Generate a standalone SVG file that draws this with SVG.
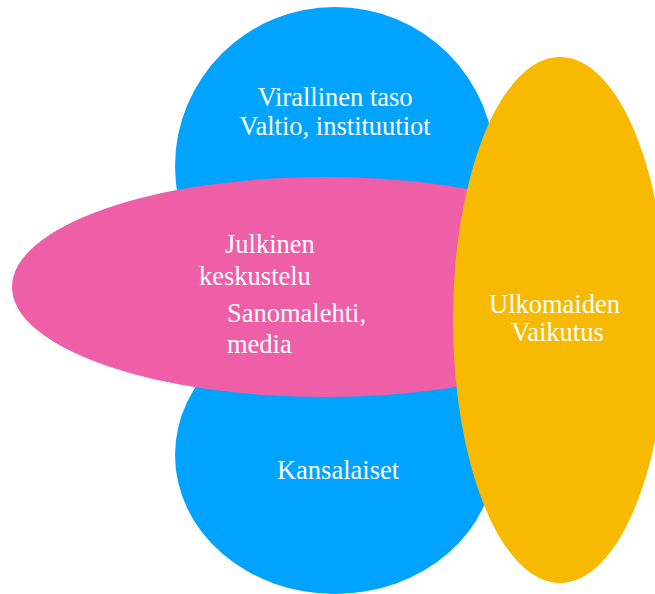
<svg xmlns="http://www.w3.org/2000/svg" width="655" height="594" viewBox="0 0 655 594">
<style>
.t{font-family:"Liberation Serif","Times New Roman",serif;font-size:26.5px;fill:#ffffff}
.blue{fill:#00A3FF}
.pink{fill:#EE5FA7}
.yellow{fill:#F7BA00}
</style>
<rect width="655" height="594" fill="#ffffff"/>
<g id="virallinen">
<ellipse class="blue" cx="335" cy="166" rx="160" ry="159"/>
<text class="t" x="335" y="106" text-anchor="middle">Virallinen taso</text>
<text class="t" x="335" y="135" text-anchor="middle">Valtio, instituutiot</text>
</g>
<g id="kansalaiset">
<ellipse class="blue" cx="335" cy="455" rx="160" ry="139"/>
<text class="t" x="338" y="479" text-anchor="middle">Kansalaiset</text>
</g>
<g id="julkinen">
<ellipse class="pink" cx="325" cy="287" rx="313" ry="110"/>
<text class="t" x="225" y="253">Julkinen</text>
<text class="t" x="199" y="285">keskustelu</text>
<text class="t" x="227" y="322">Sanomalehti,</text>
<text class="t" x="227" y="353">media</text>
</g>
<g id="ulkomaiden">
<ellipse class="yellow" cx="560" cy="320" rx="107" ry="263"/>
<text class="t" x="489" y="313">Ulkomaiden</text>
<text class="t" x="511" y="341">Vaikutus</text>
</g>
<g id="connectors"/>
</svg>
